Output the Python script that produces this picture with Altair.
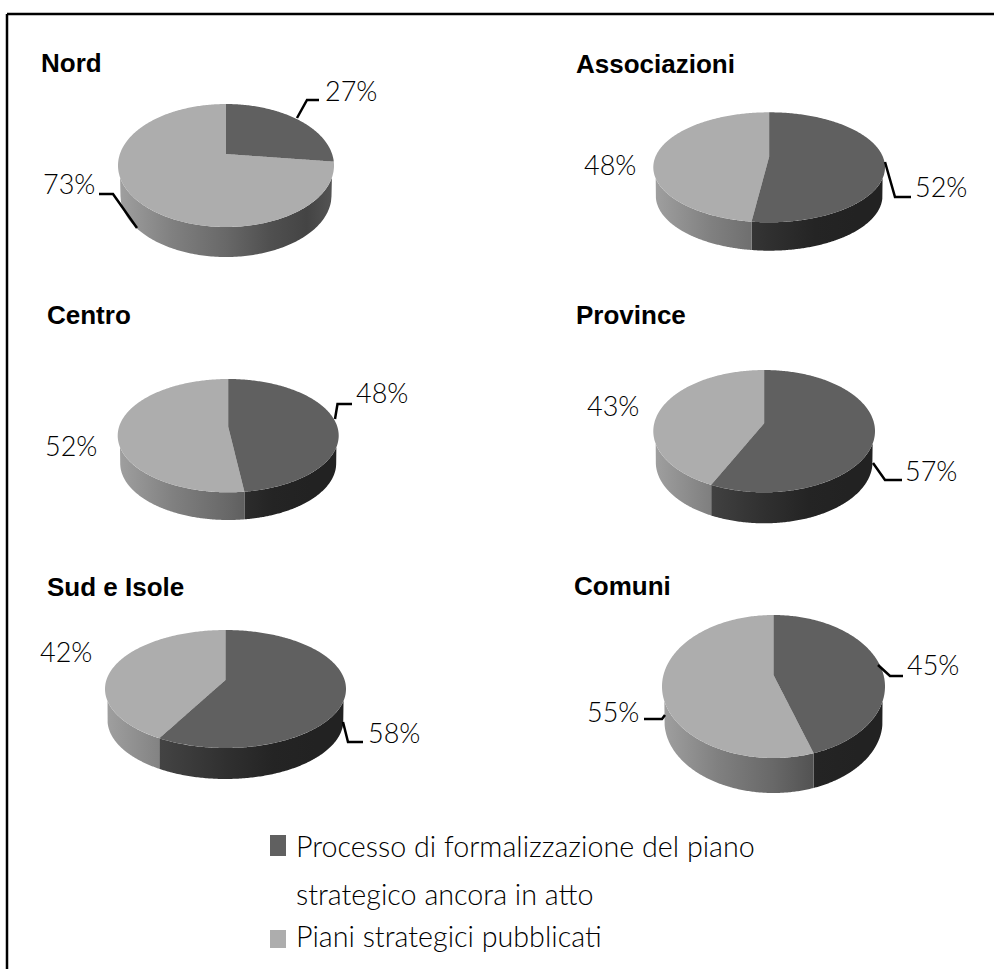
import altair as alt
import numpy as np
import pandas as pd

# Shares per group, in percent
groups = ["Nord", "Centro", "Sud e Isole", "Associazioni", "Province", "Comuni"]
in_progress = [27, 48, 58, 52, 57, 45]
published = [73, 52, 42, 48, 43, 55]
legend_lines = [
    "Processo di formalizzazione del piano",
    "strategico ancora in atto",
    "Piani strategici pubblicati",
]

W, H = 994, 969
DARK, LIGHT = "#606060", "#adadad"
LABEL_FONT = "Lato"

# Pie layout: left, right, top and bottom of the upper face, hub height, bottom of the wall
PIE_BOX = {
    "Nord": (118, 334, 104, 227, 154, 257),
    "Centro": (117.7, 338.7, 379, 492.3, 426.7, 520),
    "Sud e Isole": (105, 346, 630, 748, 680, 779),
    "Associazioni": (653.3, 885, 112.3, 222.3, 156.7, 250.7),
    "Province": (653.3, 875, 370, 492.3, 423.3, 523.3),
    "Comuni": (662, 885, 615, 758, 675, 793),
}
# Group title anchors (left, baseline)
TITLE_POS = {
    "Nord": (41, 72), "Centro": (47, 324), "Sud e Isole": (47, 596),
    "Associazioni": (576, 72.5), "Province": (576, 324), "Comuni": (574, 595),
}
# Percentage label anchors (left, baseline): dark share, light share
LABEL_POS = {
    "Nord": ((325, 101), (43, 194)),
    "Centro": ((356, 403), (45, 456)),
    "Sud e Isole": ((368, 743), (40, 662)),
    "Associazioni": ((915, 197), (584, 175)),
    "Province": ((905, 481), (587, 416)),
    "Comuni": ((907, 675), (587, 722)),
}
# Leader polylines from slice rim to label
LEADERS = [
    [(297, 118), (307, 100), (319, 100)],
    [(99, 194), (113, 194), (137, 228)],
    [(335, 419), (337.5, 404), (352, 404)],
    [(343, 722), (348, 742), (363, 742)],
    [(885, 162), (895, 197), (911, 197)],
    [(873, 463), (885, 480), (902, 480)],
    [(878, 665), (890, 676), (903, 676)],
    [(644, 719), (662, 719), (665, 715)],
]

sx = alt.Scale(domain=[0, W], range=[0, W], nice=False, zero=False)
sy = alt.Scale(domain=[H, 0], range=[H, 0], nice=False, zero=False)
X = alt.X("x:Q", scale=sx, axis=None)
Y = alt.Y("y:Q", scale=sy, axis=None)


def pie_geometry(box):
    left, right, top, bottom, hub, wall_bottom = box
    return dict(
        cx=(left + right) / 2, rx=(right - left) / 2,
        cy=(top + bottom) / 2, ry=(bottom - top) / 2,
        hub=hub, depth=wall_bottom - bottom,
    )


def rim_angle(pct, g):
    """Rim position of a share boundary, allowing for the perspective of the disc."""
    a = np.radians(pct * 3.6)
    k = np.tan(np.arccos((g["cy"] - g["hub"]) / g["ry"]) / 2)
    return (2 * np.arctan2(k * np.sin(a / 2), np.cos(a / 2))) % (2 * np.pi)


def face_band(g, t_edge, dark):
    """Lower and upper outline of one slice on the upper face, sampled along x."""
    ex = g["rx"] * np.sin(t_edge)
    ey = g["cy"] - g["ry"] * np.cos(t_edge)
    phi_e = np.arctan2(ex, -(ey - g["hub"])) % (2 * np.pi)
    us = np.sin(np.linspace(-np.pi / 2, np.pi / 2, 241))
    brk = [0.0, ex / g["rx"]]
    us = np.unique(np.concatenate([us] + [[b - 1e-5, b + 1e-5] for b in brk]))
    rows = []
    for u in us:
        if abs(u) > 1:
            continue
        x = u * g["rx"]
        h = g["ry"] * np.sqrt(max(0, 1 - u * u))
        ys = [g["cy"] - h, g["cy"] + h]
        if ex != 0 and 0 <= x / ex <= 1:
            yr = g["hub"] + (ey - g["hub"]) * x / ex
            if ys[0] < yr < ys[1]:
                ys.append(yr)
        ys.sort()
        keep = []
        for y0, y1 in zip(ys[:-1], ys[1:]):
            ym = (y0 + y1) / 2
            phi = np.arctan2(x, -(ym - g["hub"])) % (2 * np.pi)
            if (phi < phi_e) == dark:
                keep += [y0, y1]
        if keep:
            rows.append((g["cx"] + x, min(keep), max(keep)))
    return rows


def wall_band(g, u0, u1):
    """Visible side wall between two horizontal rim positions."""
    rx2 = g["rx"] - 2.5
    t = np.linspace(np.arcsin(u0), np.arcsin(u1), 161)
    rows = []
    for u in np.sin(t):
        x = u * g["rx"]
        upper = g["cy"] + g["ry"] * np.sqrt(max(0, 1 - u * u))
        v = x / rx2
        lower = upper
        if abs(v) <= 1:
            lower = max(upper, g["cy"] + g["depth"] + g["ry"] * np.sqrt(1 - v * v))
        rows.append((g["cx"] + x, upper, lower))
    return rows


# Wall shading by horizontal position on the disc (grey level)
SHADE_U = [-1.0, -0.5, 0.0, 0.4, 0.75, 1.0]
SHADE_LIGHT = [160, 128, 104, 80, 68, 85]
SHADE_DARK = [76, 66, 48, 36, 34, 34]


def wall_gradient(u0, u1, levels):
    knots = sorted({u0, u1, *[u for u in SHADE_U if u0 < u < u1]})
    stops = []
    for u in knots:
        lv = int(round(np.interp(u, SHADE_U, levels)))
        stops.append(alt.GradientStop(offset=float((u - u0) / (u1 - u0)),
                                      color=f"rgb({lv},{lv},{lv})"))
    return alt.Gradient(gradient="linear", stops=stops, x1=0, x2=1, y1=0, y2=0)


def band_layer(rows, **mark):
    df = pd.DataFrame(rows, columns=["x", "y", "y2"])
    return alt.Chart(df).mark_area(interpolate="linear", **mark).encode(X, Y, y2="y2:Q")


walls, faces = [], []
for name, dark_pct in zip(groups, in_progress):
    g = pie_geometry(PIE_BOX[name])
    t_edge = rim_angle(dark_pct, g)
    u_edge = float(np.sin(t_edge))
    if t_edge > np.pi / 2:
        walls.append(band_layer(wall_band(g, u_edge, 1.0),
                                color=wall_gradient(u_edge, 1.0, SHADE_DARK)))
        walls.append(band_layer(wall_band(g, -1.0, u_edge),
                                color=wall_gradient(-1.0, u_edge, SHADE_LIGHT)))
    else:
        walls.append(band_layer(wall_band(g, -1.0, 1.0),
                                color=wall_gradient(-1.0, 1.0, SHADE_LIGHT)))
    faces.append(band_layer(face_band(g, t_edge, False), color=LIGHT))
    faces.append(band_layer(face_band(g, t_edge, True), color=DARK))

# Group titles
title_df = pd.DataFrame(
    [{"x": TITLE_POS[n][0], "y": TITLE_POS[n][1], "t": n} for n in groups]
)
titles = alt.Chart(title_df).mark_text(
    align="left", baseline="alphabetic", font="Liberation Sans",
    fontWeight="bold", fontSize=26, color="#000000",
).encode(X, Y, text="t:N")

# Percentage labels
label_rows = []
for n, d, l in zip(groups, in_progress, published):
    for (px, py), v in zip(LABEL_POS[n], (d, l)):
        label_rows.append({"x": px, "y": py, "t": f"{v}%"})
labels = alt.Chart(pd.DataFrame(label_rows)).mark_text(
    align="left", baseline="alphabetic", font=LABEL_FONT, fontWeight=300,
    fontSize=27, color="#000000",
).encode(X, Y, text="t:N")

# Leader lines
leader_rows = [
    {"x": px, "y": py, "k": k, "i": i}
    for k, line in enumerate(LEADERS) for i, (px, py) in enumerate(line)
]
leaders = alt.Chart(pd.DataFrame(leader_rows)).mark_line(
    color="#000000", strokeWidth=2.5, strokeJoin="miter",
).encode(X, Y, detail="k:N", order="i:Q")

# Legend
legend_swatches = alt.Chart(pd.DataFrame([
    {"x": 270, "x2": 286, "y": 835, "y2": 856, "c": DARK},
    {"x": 270, "x2": 286, "y": 930, "y2": 948, "c": LIGHT},
])).mark_rect().encode(X, Y, x2="x2:Q", y2="y2:Q",
                       color=alt.Color("c:N", scale=None, legend=None))
legend_text = alt.Chart(pd.DataFrame({
    "x": [296, 296, 296], "y": [857, 905, 947], "t": legend_lines,
})).mark_text(
    align="left", baseline="alphabetic", font=LABEL_FONT, fontWeight=300,
    fontSize=28.7, color="#000000",
).encode(X, Y, text="t:N")

# Frame along the top and left edges
frame = alt.Chart(pd.DataFrame([
    {"x": 7, "x2": W, "y": 14, "y2": 14},
    {"x": 7, "x2": 7, "y": 14, "y2": H},
])).mark_rule(color="#000000", strokeWidth=2.5).encode(X, Y, x2="x2:Q", y2="y2:Q")

chart = alt.layer(
    frame, *walls, *faces, leaders, titles, labels, legend_swatches, legend_text
).properties(
    width=W, height=H, padding=0, background="#ffffff",
    autosize=alt.AutoSizeParams(type="none"),
).configure_view(stroke=None)

chart.save("out.html", embed_options={"renderer": "svg", "actions": False})
